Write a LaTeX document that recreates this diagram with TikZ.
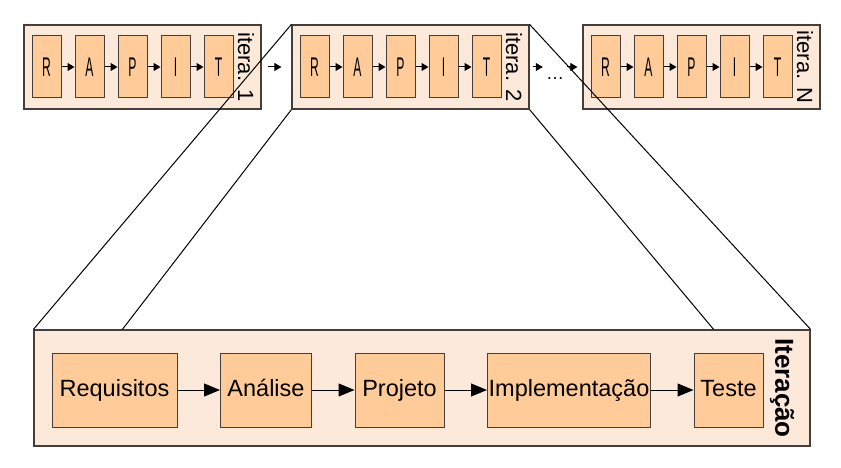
\documentclass[tikz,border=0pt]{standalone}
\usepackage{fontspec}
\setmainfont{Liberation Sans}
\usetikzlibrary{positioning, calc}
\usetikzlibrary{arrows, arrows.meta}
\definecolor{outerfill}{RGB}{253,233,218}
\definecolor{innerfill}{RGB}{255,204,153}
\definecolor{myborder}{RGB}{70,62,58}
\newcommand\narrowletter[1]{\scalebox{0.45}[1]{\fontsize{27}{27}\selectfont #1}}
\tikzset{ % box styles
  iter box/.style={draw=myborder,fill=outerfill,line width=1.2pt,inner sep=0,
    minimum width=237pt,minimum height=84pt},
  step box/.style={draw=myborder,fill=innerfill,line width=1pt,inner sep=0,
    minimum width=29pt,minimum height=62pt},
  phase box/.style={draw=myborder,fill=innerfill,line width=1pt,inner sep=0,
    minimum height=74pt,text height=17pt,text depth=5pt,
    font=\fontsize{23.5}{24}\selectfont},
  iter label/.style={rotate=-90,inner sep=0,font=\fontsize{22}{22}\selectfont},
  small arrow/.style={-{Triangle[length=7pt,width=8pt]},line width=1pt},
  big arrow/.style={-{Triangle[length=16pt,width=13pt]},line width=1pt},
  zoom line/.style={black,line width=1pt}
}

\begin{document}
\begin{tikzpicture}[x=1pt,y=-1pt]
\useasboundingbox (0,0) rectangle (841,468);

% small iterations
\foreach \n/\lx/\lab in {1/24/1, 2/292/2, 3/583/N} {
  \node[iter box] (it\n) at (\lx+118.5,67) {};
  \foreach \k/\s in {1/R,2/A,3/P,4/I,5/T}
    \node[step box] (s\n\k) at (\lx+22.5+43*\k-43,67) {\narrowletter{\s}};
  \foreach \a/\b in {1/2,2/3,3/4,4/5}
    \draw[small arrow] (s\n\a) -- (s\n\b);
  \node[iter label] (lab\n) at (\lx+222,67) {itera. \lab};
}

% arrows between iterations
\draw[small arrow, shorten <=6pt, shorten >=10pt] (it1) -- (it2);
\node[anchor=base, inner sep=3pt, font=\fontsize{18}{18}\selectfont] (dots) at (555,80) {\ldots};
\draw[small arrow, shorten <=3pt] (it2) -- (it2 -| dots.west);
\draw[small arrow, shorten >=5pt] (dots.east |- it3) -- (it3);

% big iteration
\node[iter box, minimum width=776pt, minimum height=116pt] (iter) at (422,388) {};
\node[phase box, minimum width=125pt] (req) at (114.5,390) {Requisitos};
\node[phase box, minimum width=91pt, right=42.5pt of req] (ana) {Análise};
\node[phase box, minimum width=89pt, right=42.5pt of ana] (proj) {Projeto};
\node[phase box, minimum width=163pt, right=42.5pt of proj] (impl) {Implementação};
\node[phase box, minimum width=69pt, right=42.5pt of impl] (test) {Teste};
\foreach \a/\b in {req/ana,ana/proj,proj/impl,impl/test}
  \draw[big arrow] (\a) -- (\b);
\node[iter label, font=\fontsize{26}{26}\selectfont\bfseries] (iterlab) at (782,388) {Iteração};

% zoom lines
\coordinate (zl) at ($(iter.north west)+(89,0)$);
\coordinate (zr) at ($(iter.north east)+(-97,0)$);
\draw[zoom line] (it2.north west) -- (iter.north west);
\draw[zoom line] (it2.south west) -- (zl);
\draw[zoom line] (it2.north east) -- (iter.north east);
\draw[zoom line] (it2.south east) -- (zr);
\end{tikzpicture}
\end{document}
